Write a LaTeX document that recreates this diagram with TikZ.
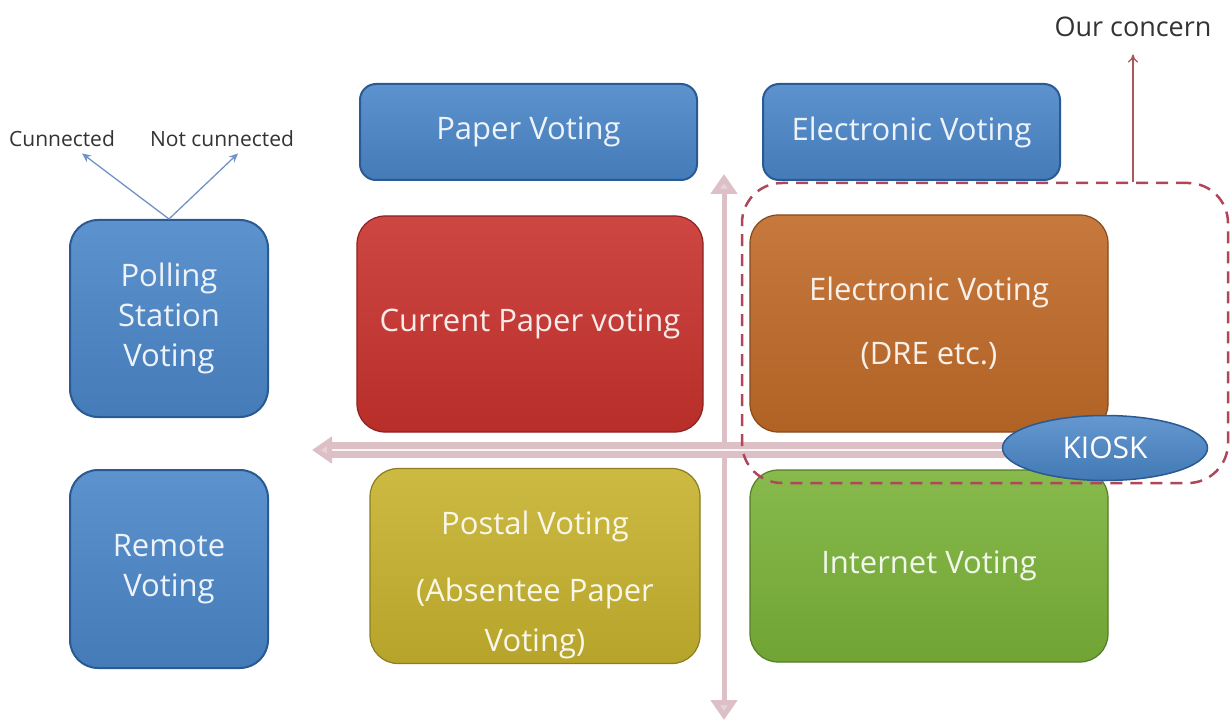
\documentclass[tikz,border=0pt]{standalone}
\usepackage{fontspec}
\setmainfont{Open Sans}
\usetikzlibrary{arrows.meta,shapes.geometric}
\definecolor{bluefill}{HTML}{4A86C8}
\definecolor{blueline}{HTML}{2A5A92}
\definecolor{redfill}{HTML}{C8322D}
\definecolor{orangefill}{HTML}{C06A28}
\definecolor{yellowfill}{HTML}{C6B22E}
\definecolor{greenfill}{HTML}{7AB238}
\definecolor{axispink}{HTML}{DDBFC6}
\definecolor{dashred}{HTML}{B0465A}
\definecolor{concernred}{HTML}{A85858}
\definecolor{linkblue}{HTML}{7093C4}
\definecolor{txtgray}{HTML}{333333}
\tikzset{
  vbox/.style={rounded corners=28pt, draw=#1!70!black, line width=1.2pt,
    top color=#1!90!white, bottom color=#1!92!black,
    text=white!90!#1, align=center, inner sep=0pt,
    font=\fontsize{31}{40}\selectfont},
  headbox/.style={vbox=bluefill, rounded corners=16pt, draw=blueline, line width=2pt},
  sidebox/.style={vbox=bluefill, draw=blueline, line width=2pt},
  axisline/.style={draw=axispink, line width=5pt,
    {Triangle[width=26pt,length=20pt,fill=axispink!70!white]}-{Triangle[width=26pt,length=20pt,fill=axispink!70!white]}},
  smalltxt/.style={text=txtgray, font=\fontsize{21}{24}\selectfont, inner sep=0pt},
  linkarrow/.style={draw=linkblue, line width=1.3pt, -{Stealth[length=9pt,width=8pt]}},
}
\begin{document}
\begin{tikzpicture}[x=1pt,y=-1pt]
\useasboundingbox[fill=white] (0,0) rectangle (1232,722);
% axes
\coordinate (vtop) at (724,174);
\coordinate (vbot) at (724,720);
\coordinate (hright) at (1010,450);
\coordinate (hleft) at (312,450);
\draw[axisline] (vtop) -- (vbot);
\draw[draw=axispink, line width=7pt, double=white!85!axispink, double distance=2pt,
  -{Triangle[width=26pt,length=20pt,fill=axispink!70!white]}] (hright) -- (hleft);
% header boxes
\node[headbox, minimum width=337pt, minimum height=96pt] (pv) at (528.5,132) {Paper Voting};
\node[headbox, minimum width=297pt, minimum height=96pt] (ev) at (911.5,132) {Electronic Voting};
% side boxes
\node[sidebox, minimum width=198pt, minimum height=197pt] (psv) at (169,318.5) {Polling\\Station\\Voting};
\node[sidebox, minimum width=198pt, minimum height=198pt] (rv) at (169,569) {Remote\\Voting};
% quadrant boxes
\node[vbox=redfill, minimum width=346pt, minimum height=216pt] (cpv) at (530,324) {Current Paper voting};
\node[vbox=orangefill, minimum width=358pt, minimum height=217pt] (dre) at (929,323.5) {Electronic Voting\\[24pt](DRE etc.)};
\node[vbox=yellowfill, minimum width=330pt, minimum height=192pt] (postal) at (535,566)
  {\begin{tabular}{@{}c@{}}\rule{0pt}{66pt}Postal Voting\\[27pt](Absentee Paper\\[10pt]Voting)\end{tabular}};
\node[vbox=greenfill, minimum width=358pt, minimum height=192pt] (inet) at (929,566) {Internet Voting};
% concern zone
\node[draw=dashred, line width=2.5pt, dash pattern=on 12pt off 8pt, rounded corners=40pt,
  minimum width=486pt, minimum height=300pt, inner sep=0pt] (zone) at (985,333) {};
% kiosk
\node[ellipse, draw=blueline, line width=1.5pt, top color=bluefill!85!white, bottom color=bluefill!90!black,
  text=white, minimum width=205pt, minimum height=65pt, inner sep=0pt,
  font=\fontsize{30}{32}\selectfont] (kiosk) at (1105,448) {KIOSK};
% labels
\node[smalltxt, anchor=base] (conn) at (62,147) {Cunnected};
\node[smalltxt, anchor=base] (nconn) at (222,147) {Not cunnected};
\node[smalltxt, font=\fontsize{27}{30}\selectfont, anchor=base] (ourc) at (1133,37) {Our concern};
\draw[linkarrow] (psv.north) -- ([xshift=20pt,yshift=-6pt]conn.south);
\draw[linkarrow] (psv.north) -- ([xshift=16pt,yshift=-6pt]nconn.south);
\draw[draw=concernred, line width=1.3pt, -{To[length=8pt,width=10pt]}] (zone.north -| ourc.south) -- ([yshift=-17pt]ourc.south);
\end{tikzpicture}
\end{document}
